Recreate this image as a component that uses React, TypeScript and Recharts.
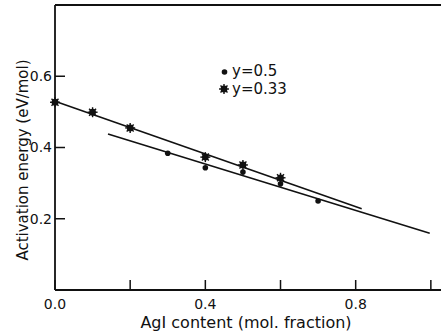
import React from 'react';
import { ComposedChart, Line, Scatter, XAxis, YAxis, ReferenceLine, Label } from 'recharts';

// AgI mole fraction vs activation energy (eV/mol), one pair of arrays per y composition
const agiY33 = [0, 0.1, 0.2, 0.4, 0.5, 0.6];
const eaY33 = [0.527, 0.499, 0.455, 0.373, 0.351, 0.315];
const agiY50 = [0.3, 0.4, 0.5, 0.6, 0.7];
const eaY50 = [0.384, 0.343, 0.331, 0.298, 0.25];

// end points of the fitted straight lines
const fitY33X = [0, 0.816];
const fitY33E = [0.53, 0.228];
const fitY50X = [0.141, 0.997];
const fitY50E = [0.438, 0.159];

const xTicks = [0, 0.2, 0.4, 0.6, 0.8, 1.0];
const xLabelled = [0, 0.4, 0.8];
const yTicks = [0.2, 0.4, 0.6];

const seriesNames = ['y=0.5', 'y=0.33'];

const INK = '#111';
const FONT = '"DejaVu Sans", sans-serif';

const zip = (xs: number[], ys: number[]) => xs.map((x, i) => ({ x, y: ys[i] }));

const pointsY33 = zip(agiY33, eaY33);
const pointsY50 = zip(agiY50, eaY50);
const lineY33 = zip(fitY33X, fitY33E);
const lineY50 = zip(fitY50X, fitY50E);

function Dot({ cx, cy }: any) {
  return <circle cx={cx} cy={cy} r={2.8} fill={INK} />;
}

function Star({ cx, cy }: any) {
  const r = 5;
  const d = r * 0.7;
  return (
    <g stroke={INK} strokeWidth={1.4} fill={INK}>
      <line x1={cx - r} y1={cy} x2={cx + r} y2={cy} />
      <line x1={cx} y1={cy - r} x2={cx} y2={cy + r} />
      <line x1={cx - d} y1={cy - d} x2={cx + d} y2={cy + d} />
      <line x1={cx - d} y1={cy + d} x2={cx + d} y2={cy - d} />
      <circle cx={cx} cy={cy} r={3.4} stroke="none" />
    </g>
  );
}

function Key() {
  return (
    <g fontFamily={FONT} fontSize={15} fill={INK}>
      <Dot cx={224.5} cy={72} />
      <text x={232} y={76}>{seriesNames[0]}</text>
      <Star cx={224} cy={89} />
      <text x={232} y={94}>{seriesNames[1]}</text>
    </g>
  );
}

export default function App() {
  return (
    <div style={{ position: 'absolute', left: 0, top: 0, background: '#fff' }}>
      <ComposedChart
        width={441}
        height={335}
        margin={{ top: 5, right: 0, bottom: 0, left: 0 }}
        style={{ fontFamily: FONT }}
      >
        <XAxis
          type="number"
          dataKey="x"
          domain={[0, 1.027]}
          ticks={xTicks}
          tickSize={-10}
          tickMargin={19}
          tickFormatter={(v: number) => (xLabelled.some((t) => Math.abs(t - v) < 1e-6) ? v.toFixed(1) : '')}
          tick={{ fill: INK, fontSize: 14 }}
          axisLine={{ stroke: INK, strokeWidth: 1.8 }}
          tickLine={{ stroke: INK, strokeWidth: 1.5 }}
          height={45}
        >
          <Label
            content={() => (
              <text x={246} y={328} textAnchor="middle" fontFamily={FONT} fontSize={16} fill={INK}>
                AgI content (mol. fraction)
              </text>
            )}
          />
        </XAxis>
        <YAxis
          type="number"
          domain={[0, 0.8]}
          ticks={yTicks}
          width={55}
          tickSize={-10}
          tickMargin={13}
          tickFormatter={(v: number) => v.toFixed(1)}
          tick={{ fill: INK, fontSize: 14 }}
          axisLine={{ stroke: INK, strokeWidth: 1.8 }}
          tickLine={{ stroke: INK, strokeWidth: 1.5 }}
        >
          <Label
            content={() => (
              <text
                x={28}
                y={160}
                transform="rotate(-90 28 160)"
                textAnchor="middle"
                fontFamily={FONT}
                fontSize={15}
                fill={INK}
              >
                Activation energy (eV/mol)
              </text>
            )}
          />
        </YAxis>
        <ReferenceLine y={0.8} stroke={INK} strokeWidth={1.8} ifOverflow="visible">
          <Label content={() => <Key />} />
        </ReferenceLine>
        <Line
          data={lineY33}
          dataKey="y"
          type="linear"
          stroke={INK}
          strokeWidth={1.6}
          dot={false}
          activeDot={false}
          isAnimationActive={false}
        />
        <Line
          data={lineY50}
          dataKey="y"
          type="linear"
          stroke={INK}
          strokeWidth={1.6}
          dot={false}
          activeDot={false}
          isAnimationActive={false}
        />
        <Scatter data={pointsY50} dataKey="y" shape={<Dot />} isAnimationActive={false} />
        <Scatter data={pointsY33} dataKey="y" shape={<Star />} isAnimationActive={false} />
      </ComposedChart>
    </div>
  );
}
